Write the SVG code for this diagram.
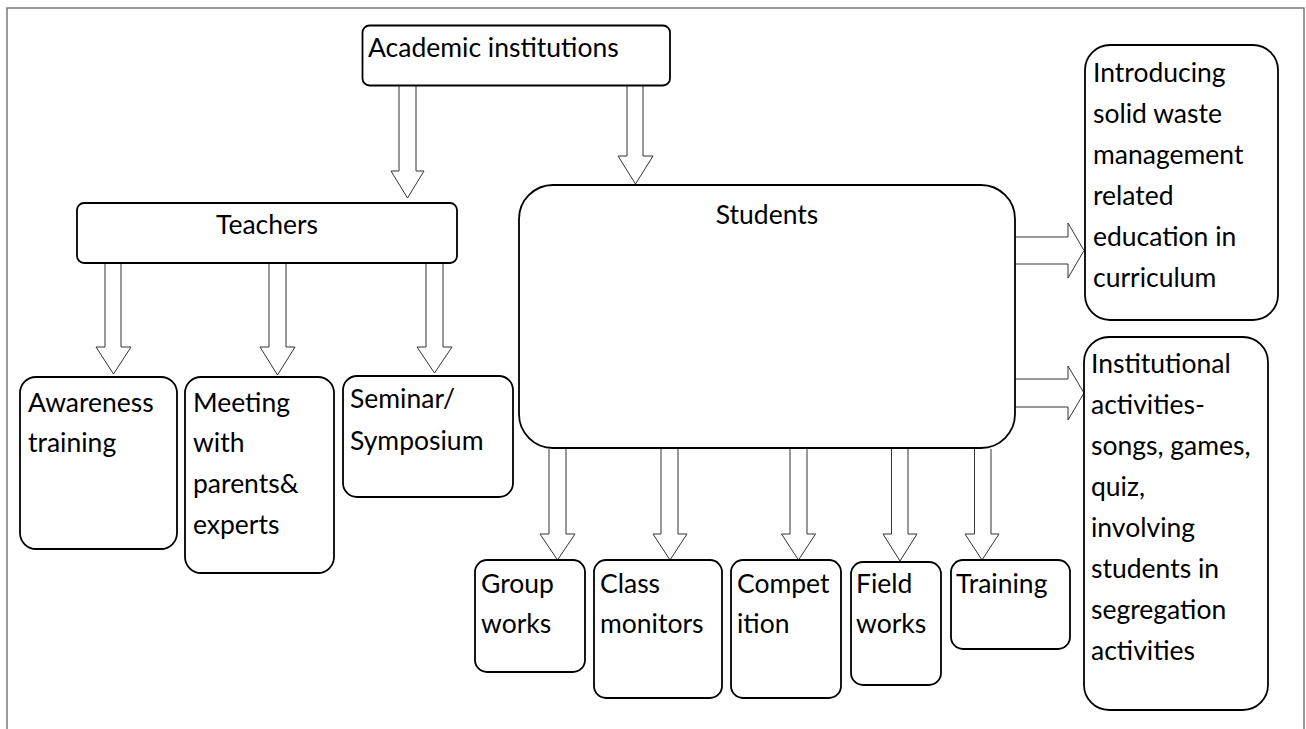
<svg xmlns="http://www.w3.org/2000/svg" width="1306" height="729" viewBox="0 0 1306 729">
<style>
.box{fill:#fff;stroke:#000;stroke-width:1.8}
.arr{fill:#fff;stroke:#333;stroke-width:1}
.t{font-family:Lato,"Liberation Sans",sans-serif;font-size:26.5px;fill:#000}
.frame{fill:none;stroke:#7a7a7a;stroke-width:1.5}
</style>
<rect width="1306" height="729" fill="#fff"/>
<path class="frame" d="M7,729 V8 H1304 V729"/>
<g id="connectors">
<path class="arr" d="M399,86 V171 H391 L407.5,198 L424,171 H416 V86"/>
<path class="arr" d="M627,86 V156 H618 L635.5,184 L653,156 H643 V86"/>
<path class="arr" d="M105,264 V347 H96 L113.5,374 L131,347 H121 V264"/>
<path class="arr" d="M269,264 V347 H260 L277.5,375 L295,347 H286 V264"/>
<path class="arr" d="M426,264 V347 H417 L434.5,373 L452,347 H443 V264"/>
<path class="arr" d="M549,449 V534 H540 L557.5,560 L575,534 H566 V449"/>
<path class="arr" d="M661,449 V534 H653 L670,560 L687,534 H678 V449"/>
<path class="arr" d="M790,449 V534 H781.5 L798.5,560 L815.5,534 H807 V449"/>
<path class="arr" d="M891.5,449 V534 H883 L900,561 L917,534 H908 V449"/>
<path class="arr" d="M974.5,449 V534 H965 L982,560 L999,534 H991 V449"/>
<path class="arr" d="M1016,237 H1068 V223 L1084,250.5 L1068,278 V264 H1016"/>
<path class="arr" d="M1016,379 H1068 V366 L1084,393 L1068,420 V407 H1016"/>
</g>
<g id="academic"><rect class="box" x="362.5" y="25.5" width="307.5" height="60" rx="7"/><text class="t" x="368" y="57">Academic institutions</text></g>
<g id="teachers"><rect class="box" x="77" y="203" width="380" height="60" rx="7"/><text class="t" x="267" y="234" text-anchor="middle">Teachers</text></g>
<g id="students"><rect class="box" x="519" y="185" width="496" height="263" rx="34"/><text class="t" x="767" y="224" text-anchor="middle">Students</text></g>
<g id="introducing"><rect class="box" x="1085" y="45" width="193" height="275" rx="25"/><text class="t" x="1093"><tspan x="1093" y="82">Introducing</tspan><tspan x="1093" y="123">solid waste</tspan><tspan x="1093" y="164">management</tspan><tspan x="1093" y="205">related</tspan><tspan x="1093" y="246">education in</tspan><tspan x="1093" y="287">curriculum</tspan></text></g>
<g id="institutional"><rect class="box" x="1084" y="337" width="184" height="373" rx="25"/><text class="t"><tspan x="1091" y="373">Institutional</tspan><tspan x="1091" y="414">activities-</tspan><tspan x="1091" y="455">songs, games,</tspan><tspan x="1091" y="496">quiz,</tspan><tspan x="1091" y="537">involving</tspan><tspan x="1091" y="578">students in</tspan><tspan x="1091" y="619">segregation</tspan><tspan x="1091" y="660">activities</tspan></text></g>
<g id="awareness"><rect class="box" x="20" y="377" width="157" height="172" rx="16"/><text class="t"><tspan x="28" y="412">Awareness</tspan><tspan x="28" y="452">training</tspan></text></g>
<g id="meeting"><rect class="box" x="185" y="377" width="149" height="196" rx="16"/><text class="t"><tspan x="193" y="412">Meeting</tspan><tspan x="193" y="452">with</tspan><tspan x="193" y="493">parents&amp;</tspan><tspan x="193" y="534">experts</tspan></text></g>
<g id="seminar"><rect class="box" x="343" y="376" width="170" height="121" rx="14"/><text class="t"><tspan x="350" y="408">Seminar/</tspan><tspan x="350" y="450">Symposium</tspan></text></g>
<g id="group"><rect class="box" x="475" y="560" width="110" height="112" rx="12"/><text class="t"><tspan x="481" y="593">Group</tspan><tspan x="481" y="633">works</tspan></text></g>
<g id="class"><rect class="box" x="594" y="560" width="128" height="138" rx="12"/><text class="t"><tspan x="600" y="593">Class</tspan><tspan x="600" y="633">monitors</tspan></text></g>
<g id="competition"><rect class="box" x="731" y="560" width="110" height="138" rx="12"/><text class="t"><tspan x="737" y="593">Compet</tspan><tspan x="737" y="633">ition</tspan></text></g>
<g id="field"><rect class="box" x="851" y="562" width="90" height="123" rx="12"/><text class="t"><tspan x="856" y="593">Field</tspan><tspan x="856" y="633">works</tspan></text></g>
<g id="training"><rect class="box" x="951" y="560" width="119" height="89" rx="12"/><text class="t"><tspan x="956" y="593">Training</tspan></text></g>
</svg>
